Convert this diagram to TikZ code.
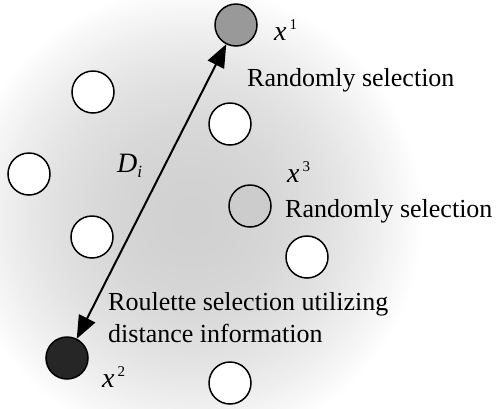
\documentclass[tikz,border=0pt]{standalone}
\usepackage{fontspec}
\setmainfont{Liberation Serif}
\usetikzlibrary{arrows.meta}

\newcommand{\vlab}[2]{\textit{#1}\hspace{3pt}\raisebox{11pt}{\fontsize{15}{15}\selectfont #2}}

\begin{document}
\begin{tikzpicture}[x=1pt,y=-1pt,
  pt/.style={circle,draw=black,line width=1.5pt,minimum size=42pt,inner sep=0pt,outer sep=0.5pt,fill=white},
  txt/.style={anchor=base west,inner sep=0pt,font=\fontsize{26}{30}\selectfont},
  vtx/.style={anchor=base west,inner sep=0pt,font=\fontsize{28}{30}\selectfont},
  arr/.style={line width=2pt,{Triangle[length=23pt,width=18pt]}-{Triangle[length=23pt,width=18pt]}}]

  \useasboundingbox (0,0) rectangle (497,408);
  \fill[white] (0,0) rectangle (497,408);

  % soft glow behind the points: concentric discs, darker towards the middle
  \foreach \i in {0,...,89} {
    \pgfmathsetmacro\s{1-\i/90}
    \pgfmathsetmacro\c{18*(1-\s*\s)}
    \fill[black!\c] (192,218) circle ({232*\s});
  }

  % population points
  \node[pt,fill=black!40] (x1) at (236,25) {};
  \node[pt] (p1) at (93,92) {};
  \node[pt] (p2) at (230,124) {};
  \node[pt] (p3) at (29,174) {};
  \node[pt,fill=black!20] (x3) at (250,206) {};
  \node[pt] (p4) at (92,237) {};
  \node[pt] (p5) at (307,257) {};
  \node[pt,fill=black!85] (x2) at (67,358) {};
  \node[pt] (p6) at (230,383) {};

  % distance between the first two parents
  \draw[arr] (x2) -- (x1);

  % labels
  \node[vtx] (l1) at (274,40) {\vlab{x}{1}};
  \node[vtx] (l3) at (287,182) {\vlab{x}{3}};
  \node[vtx] (l2) at (102,387) {\vlab{x}{2}};
  \node[vtx] (ld) at (117,172) {\textit{D}\raisebox{-5pt}{\fontsize{17}{17}\selectfont\textit{i}}};

  \node[txt] (t1) at (247,86) {Randomly selection};
  \node[txt] (t3) at (285,217) {Randomly selection};
  \node[txt] (t2a) at (108,310) {Roulette selection utilizing};
  \node[txt] (t2b) at (108,342) {distance information};
\end{tikzpicture}
\end{document}
